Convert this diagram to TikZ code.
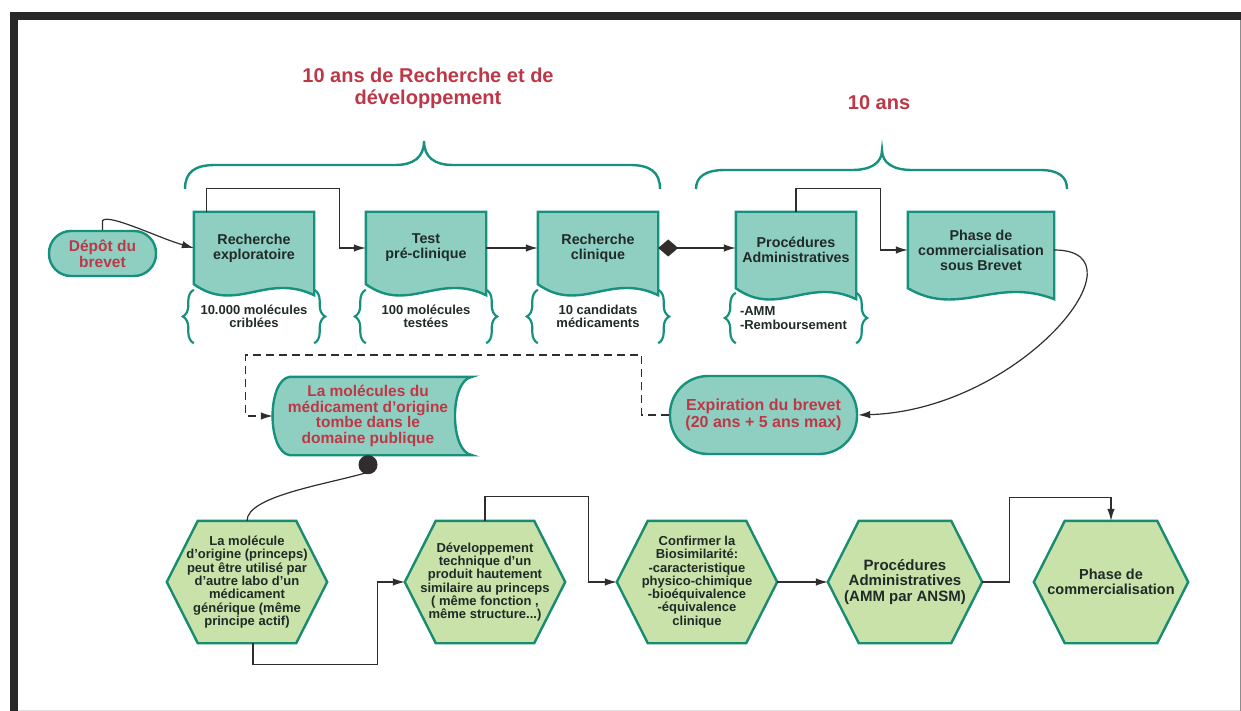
\documentclass[tikz,border=0pt]{standalone}
\usepackage{fontspec}
\setmainfont{Liberation Sans}
\usepackage{tikz}
\usetikzlibrary{arrows.meta,calc,backgrounds,decorations.pathreplacing}
\definecolor{tealfill}{RGB}{143,207,194}
\definecolor{tealedge}{RGB}{22,145,125}
\definecolor{hexgreen}{RGB}{200,226,170}
\definecolor{hexedge}{RGB}{24,140,112}
\definecolor{redtxt}{RGB}{190,55,70}
\definecolor{ink}{RGB}{32,42,38}
\definecolor{connline}{RGB}{50,45,45}
\definecolor{framegray}{RGB}{40,40,40}
\newcommand{\docshape}[1]{\filldraw[docpath] (#1.north west) -- (#1.north east) -- ($(#1.south east)+(0,11)$)
  .. controls ($(#1.south west)!.6!(#1.south east)+(0,-12)$) and ($(#1.south west)!.35!(#1.south east)+(0,30)$) .. (#1.south west) -- cycle;}
\newcommand{\hexshape}[1]{\filldraw[hexpath] (#1.west) -- ($(#1.north west)+(31,0)$) -- ($(#1.north east)+(-31,0)$)
  -- (#1.east) -- ($(#1.south east)+(-31,0)$) -- ($(#1.south west)+(31,0)$) -- cycle;}

\begin{document}
\begin{tikzpicture}[x=1pt,y=-1pt,>={Latex[length=12pt,width=7.5pt]},
  docpath/.style={fill=tealfill,draw=tealedge,line width=2.4pt},
  hexpath/.style={fill=hexgreen,draw=hexedge,line width=2.4pt},
  docbox/.style={minimum width=120pt,minimum height=72pt,inner sep=0pt,align=center,text=ink,font=\fontsize{14.3}{15}\selectfont\bfseries},
  notebox/.style={minimum width=120pt,minimum height=53pt,inner sep=0pt,align=center,text=ink,font=\fontsize{13}{13.5}\selectfont\bfseries},
  hexbox/.style={minimum width=160pt,minimum height=122pt,inner sep=0pt,align=center,text=ink,font=\fontsize{13}{13.3}\selectfont\bfseries},
  termbox/.style={draw=tealedge,fill=tealfill,line width=2.4pt,inner sep=0pt,align=center,text=redtxt},
  storebox/.style={minimum width=190pt,minimum height=78pt,inner sep=0pt,align=center,text=redtxt,font=\fontsize{15.5}{15.7}\selectfont\bfseries},
  title/.style={inner sep=0pt,align=center,text=redtxt,font=\fontsize{20}{22}\selectfont\bfseries},
  curly/.style={decorate,decoration={brace,amplitude=11pt},draw=tealedge,line width=2.2pt},
  span/.style={draw=tealedge,line width=2.4pt},
  conn/.style={draw=connline,line width=1.2pt},
  dashconn/.style={conn,dash pattern=on 8pt off 5pt}]
\useasboundingbox (0,0) rectangle (1241,711);
% page frame
\fill[framegray] (10,12) rectangle (1241,20.5);
\fill[framegray] (10,12) rectangle (17.5,711);
\draw[black!45,line width=1pt] (1240,20.5) -- (1240,711);
\draw[black!12] (17.5,710) -- (1240,710);

% titles and spans
\node[title] (trd) at (428,88) {10 ans de Recherche et de\\développement};
\node[title] (tdx) at (879,103) {10 ans};
\draw[span] (185,189) .. controls (185,172) and (195,165) .. (215,165) -- (395,165) .. controls (414,165) and (424,157) .. (424,141)
  .. controls (424,157) and (434,165) .. (453,165) -- (630,165) .. controls (650,165) and (660,172) .. (660,189);
\draw[span] (696,189) .. controls (696,177) and (705,170) .. (725,170) -- (852,170) .. controls (871,170) and (882,163) .. (882,150)
  .. controls (882,163) and (893,170) .. (912,170) -- (1040,170) .. controls (1059,170) and (1067,177) .. (1067,189);

% patent phase
\node[termbox,minimum width=107pt,minimum height=45pt,rounded corners=22pt,font=\fontsize{15.5}{15.7}\selectfont\bfseries] (dep) at (102.5,253.5) {Dépôt du\\brevet};
\node[docbox] (rex) at (254,248) {Recherche\\exploratoire};
\node[docbox] (tpc) at (426,248) {Test\\pré-clinique};
\node[docbox] (rcl) at (598,248) {Recherche\\clinique};
\node[docbox,minimum height=76pt] (pad) at (796,250) {Procédures\\Administratives};
\node[docbox,minimum width=146pt,minimum height=76pt] (pcs) at (981,250) {Phase de\\commercialisation\\sous Brevet};

\node[notebox] (n1) at (254,316.5) {10.000 molécules\\criblées};
\node[notebox] (n2) at (426,316.5) {100 molécules\\testées};
\node[notebox] (n3) at (598,316.5) {10 candidats\\médicaments};
\node[notebox,minimum height=50pt,text width=112pt,align=left] (n4) at (796,318) {-AMM\\-Remboursement};
\foreach \n in {n1,n2,n3,n4} {
  \draw[curly] (\n.south west) -- (\n.north west);
  \draw[curly] (\n.north east) -- (\n.south east);
}

\node[storebox] (dom) at (368,416) {La molécules du\\médicament d'origine\\tombe dans le\\domaine publique};
\node[termbox,minimum width=187pt,minimum height=78pt,rounded corners=38pt,font=\fontsize{16}{16.7}\selectfont\bfseries] (exp) at (763.5,415) {Expiration du brevet\\(20 ans + 5 ans max)};

% generic phase
\node[hexbox] (h1) at (247,582) {La molécule\\d'origine (princeps)\\peut être utilisé par\\d'autre labo d'un\\médicament\\générique (même\\principe actif)};
\node[hexbox] (h2) at (485,582) {Développement\\technique d'un\\produit hautement\\similaire au princeps\\( même fonction ,\\même structure...)};
\node[hexbox] (h3) at (697,582) {Confirmer la\\Biosimilarité:\\-caracteristique\\physico-chimique\\-bioéquivalence\\-équivalence\\clinique};
\node[hexbox,minimum width=154pt,font=\fontsize{15}{15.5}\selectfont\bfseries] (h4) at (905,582) {Procédures\\Administratives\\(AMM par ANSM)};
\node[hexbox,minimum width=154pt,font=\fontsize{14.5}{15}\selectfont\bfseries] (h5) at (1111,582) {Phase de\\commercialisation};

\begin{scope}[on background layer]
  \foreach \d in {rex,tpc,rcl,pad,pcs} {\docshape{\d}}
  \foreach \h in {h1,h2,h3,h4,h5} {\hexshape{\h}}
  \filldraw[docpath] ($(dom.north west)+(17,0)$) .. controls ($(dom.north west)+(-6,3)$) and ($(dom.south west)+(-6,-3)$) .. ($(dom.south west)+(17,0)$)
    -- ($(dom.south east)+(9,0)$) .. controls ($(dom.south east)+(-14,-3)$) and ($(dom.north east)+(-14,3)$) .. ($(dom.north east)+(9,0)$) -- cycle;
\end{scope}

% connectors
\draw[conn,->] (dep.north) -- ++(0,-9) .. controls +(5,-8) and +(-35,-10) .. (rex.west);
\draw[conn,->] ($(rex.north west)+(13,0)$) -- ++(0,-23) -| ($(tpc.west)+(-26,0)$) -- (tpc.west);
\draw[conn,->] (tpc) -- (rcl);
\draw[conn,{Diamond[length=20pt,width=17pt]}->] (rcl.east) -- (rcl.east -| pad.west);
\draw[conn,->] (pad.north) -- ++(0,-23) -| ($(pcs.west)+(-27,0)$) -- (pcs.west);
\draw[conn,->] (pcs.east) .. controls +(96,0) and +(163,-5) .. (exp.east);
\draw[dashconn,->] (exp.west) -- ++(-27,0) |- ($(dom.west)+(-27,-61)$) |- (dom.west);
\draw[conn,{Circle[length=19pt,width=19pt]}-] (dom.south) -- ++(0,17) .. controls +(-40,12) and +(0,-25) .. (h1.north);
\draw[conn,->] ($(h1.south)+(6,0)$) -- ++(0,21) -| ($(h2.west)+(-27,0)$) -- (h2.west);
\draw[conn,->] (h2.north) -- ++(0,-24) -| ($(h3.west)+(-28,0)$) -- (h3.west);
\draw[conn,->] (h3) -- (h4);
\draw[conn,->] (h4.east) -- ++(27,0) |- ($(h5.north)+(0,-23)$) -- (h5.north);
\end{tikzpicture}
\end{document}
